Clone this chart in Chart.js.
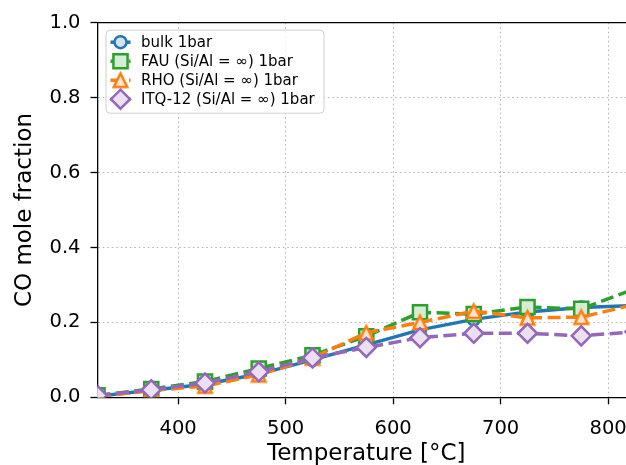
<!DOCTYPE html>
<html>
<head>
<meta charset="utf-8">
<script src="https://cdn.jsdelivr.net/npm/chart.js@4/dist/chart.umd.min.js"></script>
<style>
  html, body { margin: 0; padding: 0; background: #fff; overflow: hidden; }
  #wrap { width: 660px; height: 468px; }
</style>
</head>
<body>
<div id="wrap"><canvas id="coChart" width="660" height="468"></canvas></div>
<script>
// data (CO mole fraction vs temperature)
const temperatures = [325, 375, 425, 475, 525, 575, 625, 675, 725, 775, 825];
const bulk1bar = [0.003, 0.019, 0.035, 0.062, 0.100, 0.140, 0.180, 0.208, 0.228, 0.240, 0.245];
const fau1bar  = [0.005, 0.022, 0.042, 0.077, 0.112, 0.163, 0.227, 0.222, 0.241, 0.236, 0.290];
const rho1bar  = [0.002, 0.018, 0.030, 0.060, 0.105, 0.172, 0.200, 0.230, 0.212, 0.214, 0.248];
const itq1bar  = [0.005, 0.020, 0.038, 0.068, 0.105, 0.133, 0.159, 0.171, 0.171, 0.164, 0.175];
const seriesLabels = ["bulk 1bar", "FAU (Si/Al = \u221e) 1bar", "RHO (Si/Al = \u221e) 1bar", "ITQ-12 (Si/Al = \u221e) 1bar"];
const yTicks = [0, 0.2, 0.4, 0.6, 0.8, 1.0];
const xTicks = [400, 500, 600, 700, 800];

const FONT = "'DejaVu Sans', sans-serif";

function pts(ys) {
  return temperatures.map((t, i) => ({ x: t, y: ys[i] }));
}

// matplotlib style "^" marker (as tall as it is wide), as a little canvas
function triangleMarker(stroke, fill, size, lw) {
  const c = document.createElement("canvas");
  const full = Math.ceil(size + lw * 2 + 2);
  c.width = full; c.height = full;
  const g = c.getContext("2d");
  const m = full / 2, h = size / 2;
  g.beginPath();
  g.moveTo(m, m - h);
  g.lineTo(m + h, m + h);
  g.lineTo(m - h, m + h);
  g.closePath();
  g.fillStyle = fill;
  g.fill();
  g.lineWidth = lw;
  g.lineJoin = "miter";
  g.strokeStyle = stroke;
  g.stroke();
  return c;
}

// small marker painter for the legend, same shapes as chart.js point styles
function drawMarker(ctx, style, r, x, y) {
  if (style instanceof HTMLCanvasElement) {
    ctx.drawImage(style, x - style.width / 2, y - style.height / 2);
    return;
  }
  ctx.beginPath();
  if (style === "circle") {
    ctx.arc(x, y, r, 0, Math.PI * 2);
  } else if (style === "rect") {
    const s = r * Math.SQRT1_2;
    ctx.rect(x - s, y - s, 2 * s, 2 * s);
  } else if (style === "rectRot") {
    ctx.moveTo(x, y - r);
    ctx.lineTo(x + r, y);
    ctx.lineTo(x, y + r);
    ctx.lineTo(x - r, y);
  }
  ctx.closePath();
  ctx.fill();
  ctx.stroke();
}

const framePlugin = {
  id: "frame",
  afterDraw(chart) {
    const ctx = chart.ctx;
    const a = chart.chartArea;
    ctx.save();
    // top spine
    ctx.strokeStyle = "#000";
    ctx.lineWidth = 1.3;
    ctx.beginPath();
    ctx.moveTo(a.left, a.top);
    ctx.lineTo(chart.width, a.top);
    ctx.stroke();

    // legend box (upper left, inside the axes)
    const bx = a.left + 8.5, by = a.top + 7.5, bw = 218, bh = 83;
    ctx.fillStyle = "rgba(255,255,255,0.8)";
    ctx.strokeStyle = "#d0d0d0";
    ctx.lineWidth = 1;
    ctx.beginPath();
    ctx.roundRect(bx, by, bw, bh, 4);
    ctx.fill();
    ctx.stroke();

    ctx.font = "15px " + FONT;
    ctx.textBaseline = "middle";
    ctx.textAlign = "left";
    const sets = chart.data.datasets;
    sets.forEach((ds, i) => {
      const y = by + 12 + i * 19;
      const x0 = bx + 4.5, x1 = bx + 24.5, xm = (x0 + x1) / 2;
      ctx.strokeStyle = ds.borderColor;
      ctx.lineWidth = ds.borderWidth;
      ctx.setLineDash(ds.borderDash || []);
      ctx.beginPath();
      ctx.moveTo(x0, y);
      ctx.lineTo(x1, y);
      ctx.stroke();
      ctx.setLineDash([]);
      ctx.fillStyle = ds.pointBackgroundColor;
      ctx.lineWidth = ds.pointBorderWidth;
      drawMarker(ctx, ds.pointStyle, ds.pointRadius, xm, y);
      ctx.fillStyle = "#000";
      ctx.fillText(ds.label, bx + 35, y + 0.5);
    });
    ctx.restore();
  }
};

document.addEventListener("DOMContentLoaded", function () {
  const ctx = document.getElementById("coChart").getContext("2d");

  const dash = [13, 5.5];
  const lineW = 3.5;
  const edgeW = 2.5;

  const coChart = new Chart(ctx, {
    type: "line",
    data: {
      datasets: [
        {
          label: seriesLabels[0],
          data: pts(bulk1bar),
          borderColor: "#1f77b4",
          borderWidth: lineW,
          pointStyle: "circle",
          pointRadius: 6,
          pointBorderWidth: edgeW,
          pointBackgroundColor: "rgb(210,228,240)",
          order: 4,
          clip: 0,
        },
        {
          label: seriesLabels[1],
          data: pts(fau1bar),
          borderColor: "#2ca02c",
          borderWidth: lineW,
          borderDash: dash,
          pointStyle: "rect",
          pointRadius: 10,
          pointBorderWidth: edgeW,
          pointBackgroundColor: "rgb(213,236,213)",
          order: 3,
          clip: 0,
        },
        {
          label: seriesLabels[2],
          data: pts(rho1bar),
          borderColor: "#ff7f0e",
          borderWidth: lineW,
          borderDash: dash,
          pointStyle: triangleMarker("#ff7f0e", "rgb(255,229,207)", 13.5, edgeW),
          pointRadius: 8,
          pointBorderWidth: edgeW,
          pointBackgroundColor: "rgb(255,229,207)",
          order: 2,
          clip: 0,
        },
        {
          label: seriesLabels[3],
          data: pts(itq1bar),
          borderColor: "#9467bd",
          borderWidth: lineW,
          borderDash: dash,
          pointStyle: "rectRot",
          pointRadius: 9.5,
          pointBorderWidth: edgeW,
          pointBackgroundColor: "rgb(234,224,242)",
          order: 1,
          clip: 0,
        },
      ],
    },
    options: {
      responsive: false,
      animation: false,
      devicePixelRatio: 1,
      events: [],
      layout: {
        padding: { left: 0, right: 25, top: 22.7, bottom: 0 },
      },
      plugins: {
        legend: { display: false },
        tooltip: { enabled: false },
      },
      scales: {
        x: {
          type: "linear",
          min: temperatures[0],
          max: temperatures[temperatures.length - 1],
          afterFit(scale) { scale.height = 70.7; },
          afterBuildTicks(scale) { scale.ticks = xTicks.map(v => ({ value: v })); },
          ticks: {
            font: { family: FONT, size: 19.5 },
            color: "#000",
            padding: 13,
            maxRotation: 0,
            callback: v => String(v),
          },
          grid: {
            color: "#b0b0b0",
            lineWidth: 1,
            tickColor: "#000",
            tickLength: 7,
            tickWidth: 1.3,
            tickBorderDash: [],
          },
          border: { color: "#000", width: 1.3, dash: [1.5, 3] },
          title: {
            display: true,
            text: "Temperature [\u00b0C]",
            font: { family: FONT, size: 23 },
            color: "#000",
            padding: { top: 0, bottom: 0 },
          },
        },
        y: {
          min: 0,
          max: 1,
          afterFit(scale) { scale.width = 97.5; },
          afterBuildTicks(scale) { scale.ticks = yTicks.map(v => ({ value: v })); },
          ticks: {
            font: { family: FONT, size: 19.5 },
            color: "#000",
            padding: 10,
            callback: v => v.toFixed(1),
          },
          grid: {
            color: "#b0b0b0",
            lineWidth: 1,
            tickColor: "#000",
            tickLength: 7,
            tickWidth: 1.3,
            tickBorderDash: [],
          },
          border: { color: "#000", width: 1.3, dash: [1.5, 3] },
          title: {
            display: true,
            text: "CO mole fraction",
            font: { family: FONT, size: 23 },
            color: "#000",
            padding: { top: 11, bottom: 0 },
          },
        },
      },
    },
    plugins: [framePlugin],
  });
});
</script>
</body>
</html>
